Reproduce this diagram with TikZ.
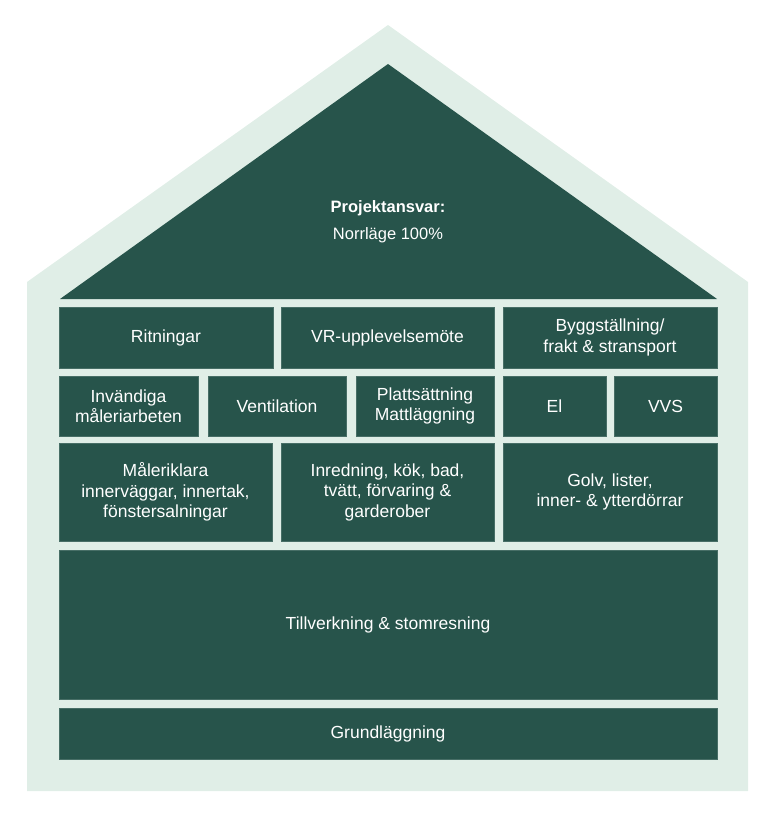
\documentclass[tikz,border=0pt]{standalone}
\usepackage{fontspec}
\setmainfont{Liberation Sans}
\definecolor{husgron}{HTML}{27544B}
\definecolor{husljus}{HTML}{E0EEE7}
\tikzset{
  cell/.style={fill=husgron, draw=husgron!85!white, line width=0.6pt, text=white,
    align=center, inner sep=0pt, font=\fontsize{17.5}{20.5}\selectfont},
}
\begin{document}
\begin{tikzpicture}[x=1pt,y=-1pt]
        \useasboundingbox (0,0) rectangle (768,816);
        % the house outline
        \fill[husljus] (27,791) -- (27,282) -- (388,25) -- (748,282) -- (748,791) -- cycle;
        % the roof
        \fill[husgron] (60,299) -- (388,64) -- (717,299) -- cycle;
        \node[text=white, align=center, font=\fontsize{16.5}{27}\selectfont] (roof) at (388,222)
          {\textbf{Projektansvar:}\\Norrläge 100\%};

        % first row
        \node[cell, minimum width=214, minimum height=61] (rit) at (166,337.5) {Ritningar};
        \node[cell, minimum width=213, minimum height=61] (vr) at (387.5,337.5) {VR-upplevelsemöte};
        \node[cell, minimum width=214, minimum height=61] (bygg) at (610,337.5) {Byggställning/\\frakt \& stransport};
        % second row
        \node[cell, minimum width=139, minimum height=60] (inv) at (128.5,406) {Invändiga\\måleriarbeten};
        \node[cell, minimum width=138, minimum height=60] (vent) at (277,406) {Ventilation};
        \node[cell, minimum width=138, minimum height=60] (platt) at (425,406) {Plattsättning\\Mattläggning};
        \node[cell, minimum width=103, minimum height=60] (el) at (554.5,406) {El};
        \node[cell, minimum width=103, minimum height=60] (vvs) at (665.5,406) {VVS};
        % third row
        \node[cell, minimum width=213, minimum height=98] (mal) at (165.5,492) {Måleriklara\\innerväggar, innertak,\\fönstersalningar};
        \node[cell, minimum width=213, minimum height=98] (inr) at (387.5,492) {Inredning, kök, bad,\\tvätt, förvaring \&\\garderober};
        \node[cell, minimum width=214, minimum height=98] (golv) at (610,492) {Golv, lister,\\inner- \& ytterdörrar};
        % the base
        \node[cell, minimum width=658, minimum height=149] (stom) at (388,624.5) {Tillverkning \& stomresning};
        \node[cell, minimum width=658, minimum height=51] (grund) at (388,733.5) {Grundläggning};
    \end{tikzpicture}
\end{document}
